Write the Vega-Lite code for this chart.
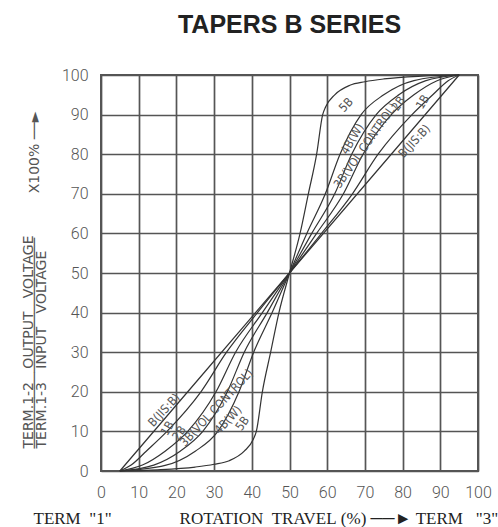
{
  "$schema": "https://vega.github.io/schema/vega-lite/v6.json",
  "autosize": {"type": "none"},
  "padding": {"left": 101, "top": 75, "right": 20, "bottom": 56},
  "width": 377,
  "height": 396,
  "background": "white",
  "title": {
    "text": "TAPERS B SERIES",
    "font": "Liberation Sans",
    "fontSize": 25,
    "fontWeight": "bold",
    "color": "#222",
    "anchor": "middle",
    "offset": 29
  },
  "config": {
    "view": {"stroke": "#555", "strokeWidth": 2},
    "axis": {
      "grid": true,
      "gridColor": "#555",
      "gridWidth": 1.7,
      "gridOpacity": 1,
      "domain": false,
      "ticks": false,
      "labelFont": "Roboto",
      "labelFontWeight": 300,
      "labelFontSize": 16,
      "labelColor": "#555",
      "labelOverlap": false,
      "labelFlush": false
    }
  },
  "datasets": {
    "curves": [
      {"curve": "B(JIS:B)", "x": 5, "y": 0},
      {"curve": "B(JIS:B)", "x": 27.5, "y": 25},
      {"curve": "B(JIS:B)", "x": 50, "y": 50},
      {"curve": "B(JIS:B)", "x": 72.5, "y": 75},
      {"curve": "B(JIS:B)", "x": 95, "y": 100},

      {"curve": "1B", "x": 5, "y": 0},
      {"curve": "1B", "x": 8, "y": 1.5},
      {"curve": "1B", "x": 12, "y": 5},
      {"curve": "1B", "x": 17.5, "y": 10},
      {"curve": "1B", "x": 26.5, "y": 20},
      {"curve": "1B", "x": 33.3, "y": 30},
      {"curve": "1B", "x": 41.5, "y": 40},
      {"curve": "1B", "x": 50, "y": 50},
      {"curve": "1B", "x": 58.5, "y": 60},
      {"curve": "1B", "x": 66.7, "y": 70},
      {"curve": "1B", "x": 73.5, "y": 80},
      {"curve": "1B", "x": 82.5, "y": 90},
      {"curve": "1B", "x": 88, "y": 95},
      {"curve": "1B", "x": 92, "y": 98.5},
      {"curve": "1B", "x": 95, "y": 100},

      {"curve": "2B", "x": 5, "y": 0},
      {"curve": "2B", "x": 11, "y": 1.5},
      {"curve": "2B", "x": 17, "y": 5},
      {"curve": "2B", "x": 23, "y": 10},
      {"curve": "2B", "x": 30.5, "y": 20},
      {"curve": "2B", "x": 35.7, "y": 30},
      {"curve": "2B", "x": 42.8, "y": 40},
      {"curve": "2B", "x": 50, "y": 50},
      {"curve": "2B", "x": 57.2, "y": 60},
      {"curve": "2B", "x": 64.3, "y": 70},
      {"curve": "2B", "x": 69.5, "y": 80},
      {"curve": "2B", "x": 77, "y": 90},
      {"curve": "2B", "x": 83, "y": 95},
      {"curve": "2B", "x": 89, "y": 98.5},
      {"curve": "2B", "x": 95, "y": 100},

      {"curve": "3B", "x": 5, "y": 0},
      {"curve": "3B", "x": 14, "y": 1.5},
      {"curve": "3B", "x": 21, "y": 5},
      {"curve": "3B", "x": 27, "y": 10},
      {"curve": "3B", "x": 33.5, "y": 20},
      {"curve": "3B", "x": 38, "y": 30},
      {"curve": "3B", "x": 44.1, "y": 40},
      {"curve": "3B", "x": 50, "y": 50},
      {"curve": "3B", "x": 55.9, "y": 60},
      {"curve": "3B", "x": 62, "y": 70},
      {"curve": "3B", "x": 66.5, "y": 80},
      {"curve": "3B", "x": 73, "y": 90},
      {"curve": "3B", "x": 79, "y": 95},
      {"curve": "3B", "x": 86, "y": 98.5},
      {"curve": "3B", "x": 95, "y": 100},

      {"curve": "4B", "x": 5, "y": 0},
      {"curve": "4B", "x": 17, "y": 1.4},
      {"curve": "4B", "x": 25, "y": 5},
      {"curve": "4B", "x": 31, "y": 10},
      {"curve": "4B", "x": 36.6, "y": 20},
      {"curve": "4B", "x": 40.5, "y": 30},
      {"curve": "4B", "x": 45.4, "y": 40},
      {"curve": "4B", "x": 50, "y": 50},
      {"curve": "4B", "x": 54.6, "y": 60},
      {"curve": "4B", "x": 59.5, "y": 70},
      {"curve": "4B", "x": 63.4, "y": 80},
      {"curve": "4B", "x": 69, "y": 90},
      {"curve": "4B", "x": 75, "y": 95},
      {"curve": "4B", "x": 83, "y": 98.6},
      {"curve": "4B", "x": 95, "y": 100},

      {"curve": "5B", "x": 5, "y": 0},
      {"curve": "5B", "x": 15, "y": 0.3},
      {"curve": "5B", "x": 25, "y": 1.0},
      {"curve": "5B", "x": 30, "y": 1.7},
      {"curve": "5B", "x": 34, "y": 2.6},
      {"curve": "5B", "x": 38, "y": 5},
      {"curve": "5B", "x": 40.4, "y": 8},
      {"curve": "5B", "x": 41.2, "y": 10},
      {"curve": "5B", "x": 42.8, "y": 20},
      {"curve": "5B", "x": 45, "y": 30},
      {"curve": "5B", "x": 47.2, "y": 40},
      {"curve": "5B", "x": 50, "y": 50},
      {"curve": "5B", "x": 52.8, "y": 60},
      {"curve": "5B", "x": 55, "y": 70},
      {"curve": "5B", "x": 57.2, "y": 80},
      {"curve": "5B", "x": 58.8, "y": 90},
      {"curve": "5B", "x": 59.6, "y": 92},
      {"curve": "5B", "x": 62, "y": 95},
      {"curve": "5B", "x": 66, "y": 97.4},
      {"curve": "5B", "x": 70, "y": 98.3},
      {"curve": "5B", "x": 75, "y": 99},
      {"curve": "5B", "x": 85, "y": 99.7},
      {"curve": "5B", "x": 95, "y": 100}
    ]
  },
  "encoding": {
    "x": {
      "field": "x", "type": "quantitative",
      "scale": {"domain": [0, 100], "nice": false},
      "axis": {
        "values": [0, 10, 20, 30, 40, 50, 60, 70, 80, 90, 100],
        "labelPadding": 13,
        "title": "TERM\u00a0\u00a0\"1\"\u00a0\u00a0\u00a0\u00a0\u00a0\u00a0\u00a0\u00a0\u00a0\u00a0\u00a0\u00a0\u00a0\u00a0\u00a0\u00a0ROTATION\u00a0\u00a0TRAVEL\u00a0(%)\u00a0──►\u00a0TERM\u00a0\u00a0\u00a0\"3\"",
        "titleFont": "Liberation Serif",
        "titleFontSize": 17,
        "titleFontWeight": "normal",
        "titleColor": "#222",
        "titleAlign": "left",
        "titleAnchor": "start",
        "titleBaseline": "alphabetic",
        "titleX": -68,
        "titleY": 52
      }
    },
    "y": {
      "field": "y", "type": "quantitative",
      "scale": {"domain": [0, 100], "nice": false},
      "axis": {
        "values": [0, 10, 20, 30, 40, 50, 60, 70, 80, 90, 100],
        "labelPadding": 13,
        "title": ["TERM.1-2\u00a0\u00a0\u00a0OUTPUT\u00a0\u00a0\u00a0VOLTAGE", "─────────────────────────\u00a0\u00a0\u00a0\u00a0\u00a0\u00a0\u00a0\u00a0\u00a0\u00a0X100%\u00a0──►", "TERM.1-3\u00a0\u00a0\u00a0INPUT\u00a0\u00a0\u00a0VOLTAGE"],
        "titleFont": "DejaVu Sans",
        "titleFontSize": 14,
        "titleFontWeight": "normal",
        "titleColor": "#555",
        "titleAngle": -90,
        "titleAlign": "left",
        "titleAnchor": "start",
        "titleBaseline": "bottom",
        "titleLineHeight": 6.5,
        "titleX": -66,
        "titleY": 373
      }
    }
  },
  "layer": [
    {
      "data": {"name": "curves"},
      "mark": {"type": "line", "interpolate": "monotone", "color": "#333", "strokeWidth": 1.2},
      "encoding": {
        "detail": {"field": "curve"}
      }
    },
    {
      "data": {"values": [
        {"label": "5B", "x": 65, "y": 92.5},
        {"label": "B(JIS:B)", "x": 83.1, "y": 83.3},
        {"label": "B(JIS:B)", "x": 16.7, "y": 15.4},
        {"label": "3B(VOL CONTROL)", "x": 30.6, "y": 16},
        {"label": "4B(W)", "x": 33.7, "y": 12.9}
      ]},
      "mark": {"type": "text", "angle": -47, "font": "DejaVu Sans Condensed, DejaVu Sans", "fontSize": 12, "color": "#555", "align": "center", "baseline": "middle"},
      "encoding": {
        "text": {"field": "label"}
      }
    },
    {
      "data": {"values": [
        {"label": "3B(VOL CONTROL)", "x": 70.1, "y": 82.2},
        {"label": "2B", "x": 78.9, "y": 92.8},
        {"label": "2B", "x": 20.7, "y": 9.6},
        {"label": "5B", "x": 37.5, "y": 12}
      ]},
      "mark": {"type": "text", "angle": -55, "font": "DejaVu Sans Condensed, DejaVu Sans", "fontSize": 12, "color": "#555", "align": "center", "baseline": "middle"},
      "encoding": {
        "text": {"field": "label"}
      }
    },
    {
      "data": {"values": [
        {"label": "4B(W)", "x": 66.6, "y": 83.9},
        {"label": "1B", "x": 85.3, "y": 93.2},
        {"label": "1B", "x": 17.6, "y": 10.8}
      ]},
      "mark": {"type": "text", "angle": -60, "font": "DejaVu Sans Condensed, DejaVu Sans", "fontSize": 12, "color": "#555", "align": "center", "baseline": "middle"},
      "encoding": {
        "text": {"field": "label"}
      }
    }
  ]
}
